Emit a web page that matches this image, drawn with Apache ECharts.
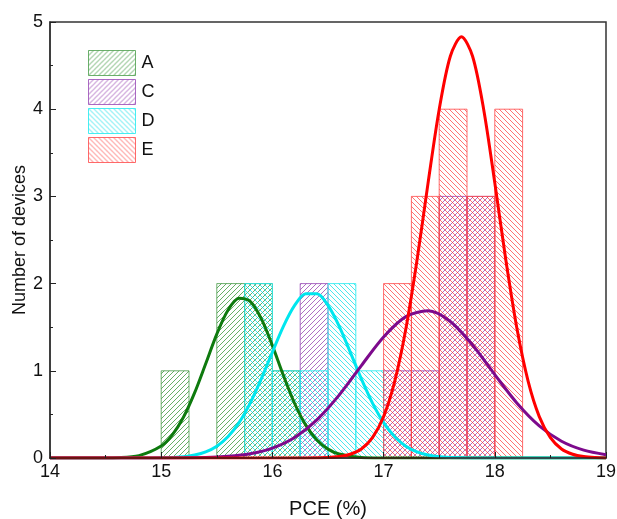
<!DOCTYPE html>
<html>
<head>
<meta charset="utf-8">
<script src="https://cdn.jsdelivr.net/npm/echarts@6/dist/echarts.min.js"></script>
<style>
  html, body { margin: 0; padding: 0; background: #fff; }
  #chart { width: 617px; height: 519px; }
</style>
</head>
<body>
<div id="chart"></div>
<script>
// Histogram bins (left edge, PCE %) and device counts per sample
const binWidth = 0.25;
const binsA = [15.0, 15.5, 15.75, 16.0];
const countsA = [1, 2, 2, 1];
const binsC = [16.25, 17.0, 17.25, 17.5, 17.75];
const countsC = [2, 1, 1, 3, 3];
const binsD = [15.75, 16.0, 16.25, 16.5, 16.75];
const countsD = [2, 1, 1, 2, 1];
const binsE = [17.0, 17.25, 17.5, 17.75, 18.0];
const countsE = [2, 3, 4, 3, 4];

// Fitted distribution curves (PCE %, number of devices)
const fitXA = [14.0, 14.4, 14.6, 14.8, 15.0, 15.1, 15.2, 15.3, 15.4, 15.5, 15.6, 15.7, 15.8, 15.9, 16.0, 16.1, 16.2, 16.3, 16.4, 16.5, 16.6, 16.8, 17.0, 17.4, 19.0];
const fitYA = [0, 0, 0.004, 0.027, 0.137, 0.265, 0.467, 0.746, 1.081, 1.421, 1.694, 1.832, 1.796, 1.598, 1.289, 0.943, 0.625, 0.377, 0.206, 0.102, 0.046, 0.007, 0.001, 0, 0];

const fitXD = [14.0, 14.8, 15.0, 15.2, 15.3, 15.4, 15.5, 15.6, 15.7, 15.8, 15.9, 16.0, 16.1, 16.2, 16.3, 16.4, 16.5, 16.6, 16.7, 16.8, 16.9, 17.0, 17.1, 17.2, 17.3, 17.4, 17.5, 17.7, 17.9, 18.3, 19.0];
const fitYD = [0, 0, 0.002, 0.015, 0.034, 0.070, 0.136, 0.244, 0.406, 0.630, 0.907, 1.215, 1.513, 1.750, 1.883, 1.883, 1.750, 1.513, 1.215, 0.907, 0.630, 0.406, 0.244, 0.136, 0.070, 0.034, 0.015, 0.002, 0, 0, 0];

const fitXC = [14.0, 14.6, 15.0, 15.4, 15.6, 15.8, 16.0, 16.2, 16.4, 16.6, 16.8, 17.0, 17.2, 17.4, 17.6, 17.8, 18.0, 18.2, 18.4, 18.6, 18.8, 19.0];
const fitYC = [0, 0, 0.001, 0.006, 0.019, 0.049, 0.114, 0.236, 0.438, 0.721, 1.060, 1.388, 1.621, 1.688, 1.566, 1.296, 0.956, 0.628, 0.368, 0.192, 0.090, 0.037];

const fitXE = [14.0, 15.8, 16.2, 16.5, 16.6, 16.7, 16.8, 16.9, 17.0, 17.1, 17.2, 17.3, 17.4, 17.5, 17.6, 17.7, 17.8, 17.9, 18.0, 18.1, 18.2, 18.3, 18.4, 18.5, 18.6, 18.7, 18.8, 18.9, 19.0];
const fitYE = [0, 0, 0, 0.005, 0.016, 0.043, 0.104, 0.233, 0.475, 0.879, 1.479, 2.265, 3.155, 3.997, 4.607, 4.830, 4.607, 3.997, 3.155, 2.265, 1.479, 0.879, 0.475, 0.233, 0.104, 0.043, 0.016, 0.005, 0.001];

// Axis ticks
const xTicks = [14, 15, 16, 17, 18, 19];
const yTicks = [0, 1, 2, 3, 4, 5];

const FONT = '"Liberation Sans", Arial, sans-serif';

// Diagonal hatch tile; dir 1 = "///", dir -1 = "\\\"
function hatch(color, dir) {
  const s = 5;
  const c = document.createElement('canvas');
  c.width = s; c.height = s;
  const g = c.getContext('2d');
  g.strokeStyle = color;
  g.lineWidth = 1;
  g.beginPath();
  if (dir > 0) {
    g.moveTo(0, s); g.lineTo(s, 0);
    g.moveTo(-1, 1); g.lineTo(1, -1);
    g.moveTo(s - 1, s + 1); g.lineTo(s + 1, s - 1);
  } else {
    g.moveTo(0, 0); g.lineTo(s, s);
    g.moveTo(-1, s - 1); g.lineTo(1, s + 1);
    g.moveTo(s - 1, -1); g.lineTo(s + 1, 1);
  }
  g.stroke();
  return { image: c, repeat: 'repeat' };
}

const styles = {
  A: { hatch: hatch('rgba(40,140,40,0.7)', 1), border: 'rgba(60,150,60,0.75)', line: '#0e7a0e' },
  C: { hatch: hatch('rgba(140,50,170,0.7)', 1), border: 'rgba(150,70,180,0.8)', line: '#7d0a8c' },
  D: { hatch: hatch('rgba(0,220,230,0.7)', -1), border: 'rgba(40,235,240,0.85)', line: '#00e6ee' },
  E: { hatch: hatch('rgba(255,40,40,0.65)', -1), border: 'rgba(255,70,70,0.8)', line: '#ff0000' }
};

function binData(bins, counts) {
  return bins.map((b, i) => [b, b + binWidth, counts[i]]);
}

function histSeries(name, bins, counts, z) {
  const st = styles[name];
  return {
    name: name,
    type: 'custom',
    z: z,
    itemStyle: { color: st.hatch, borderColor: st.border, borderWidth: 1 },
    encode: { x: [0, 1], y: 2 },
    data: binData(bins, counts),
    renderItem: function (params, api) {
      const p0 = api.coord([api.value(0), api.value(2)]);
      const p1 = api.coord([api.value(1), 0]);
      return {
        type: 'rect',
        shape: { x: p0[0], y: p0[1], width: p1[0] - p0[0], height: p1[1] - p0[1] },
        style: { fill: st.hatch, stroke: st.border, lineWidth: 1 }
      };
    }
  };
}

function fitSeries(name, xs, ys, z) {
  return {
    name: name + ' fit',
    type: 'line',
    z: z,
    data: xs.map((x, i) => [x, ys[i]]),
    showSymbol: false,
    smooth: 0.3,
    lineStyle: { color: styles[name].line, width: 3 },
    silent: true
  };
}

const chart = echarts.init(document.getElementById('chart'), null, { renderer: 'canvas' });

chart.setOption({
  animation: false,
  backgroundColor: '#fff',
  grid: {
    left: 50, right: 11, top: 22, bottom: 61,
    containLabel: false,
    outerBoundsMode: 'none',
    show: true, borderColor: '#333', borderWidth: 1.5, backgroundColor: 'transparent'
  },
  legend: {
    orient: 'vertical',
    left: 88, top: 50,
    padding: 0,
    itemWidth: 47, itemHeight: 25, itemGap: 3,
    icon: 'rect',
    textStyle: { fontFamily: FONT, fontSize: 18, color: '#111', padding: [0, 0, 0, 1] },
    data: ['A', 'C', 'D', 'E'].map(n => ({
      name: n,
      itemStyle: { color: styles[n].hatch, borderColor: styles[n].border, borderWidth: 1 }
    }))
  },
  xAxis: {
    type: 'value',
    min: 14, max: 19, interval: 1,
    z: 5,
    name: 'PCE (%)',
    nameLocation: 'middle',
    nameGap: 41,
    nameMoveOverlap: false,
    nameTextStyle: { fontFamily: FONT, fontSize: 20, color: '#111' },
    axisLine: { show: true, lineStyle: { color: '#3a1a18', width: 1.5 } },
    axisTick: { show: true, inside: true, length: 6, lineStyle: { color: '#222', width: 1 } },
    minorTick: { show: true, splitNumber: 2, length: 3, lineStyle: { color: '#222', width: 1 } },
    splitLine: { show: false },
    axisLabel: {
      fontFamily: FONT, fontSize: 18, color: '#111', margin: 5,
      formatter: v => (xTicks.indexOf(v) >= 0 ? String(v) : '')
    }
  },
  yAxis: {
    type: 'value',
    min: 0, max: 5, interval: 1,
    z: 5,
    name: 'Number of devices',
    nameLocation: 'middle',
    nameGap: 21,
    nameMoveOverlap: false,
    nameTextStyle: { fontFamily: FONT, fontSize: 18, color: '#111' },
    axisLine: { show: true, lineStyle: { color: '#333', width: 1.5 } },
    axisTick: { show: true, inside: true, length: 6, lineStyle: { color: '#222', width: 1 } },
    minorTick: { show: true, splitNumber: 2, length: 3, lineStyle: { color: '#222', width: 1 } },
    splitLine: { show: false },
    axisLabel: {
      fontFamily: FONT, fontSize: 18, color: '#111', margin: 7,
      formatter: v => (yTicks.indexOf(v) >= 0 ? String(v) : '')
    }
  },
  series: [
    histSeries('A', binsA, countsA, 1),
    histSeries('C', binsC, countsC, 1),
    histSeries('D', binsD, countsD, 1),
    histSeries('E', binsE, countsE, 1),
    fitSeries('A', fitXA, fitYA, 3),
    fitSeries('D', fitXD, fitYD, 3),
    fitSeries('C', fitXC, fitYC, 3),
    fitSeries('E', fitXE, fitYE, 3)
  ]
});
</script>
</body>
</html>
